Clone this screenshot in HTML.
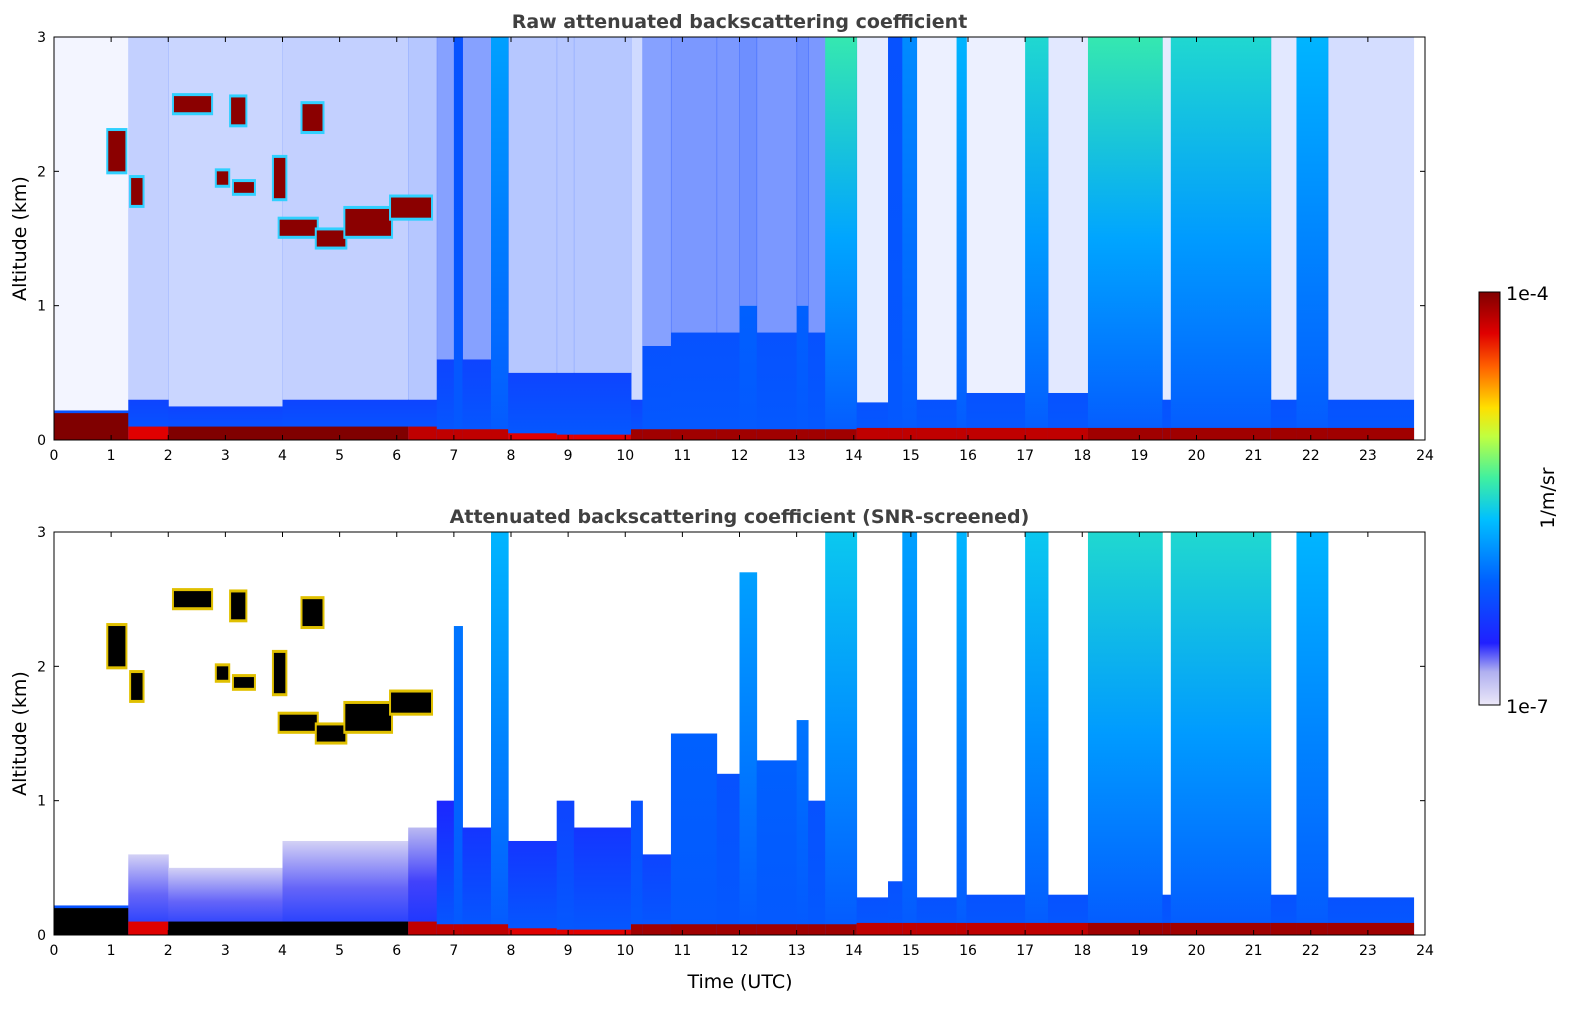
<!DOCTYPE html>
<html><head><meta charset="utf-8"><style>
body{margin:0;background:#fff;width:1595px;height:1020px;overflow:hidden;font-family:"Liberation Sans","DejaVu Sans",sans-serif}
svg text{font-family:"DejaVu Sans","Liberation Sans",sans-serif}
</style></head><body>
<svg id="fig" width="1595" height="1020" xmlns="http://www.w3.org/2000/svg"><defs id="defs"></defs></svg>
<script>
// ---- data: time segments (UTC hours) ----
const segStart=[0,1.3,2.0,4.0,6.2,6.7,7.0,7.15,7.65,7.95,8.8,9.1,10.1,10.3,10.8,11.6,12.0,12.3,13.0,13.2,13.5,14.05,14.6,14.85,15.1,15.8,15.97,17.0,17.4,18.1,19.4,19.55,21.3,21.75,22.3];
const segEnd=[1.3,2.0,4.0,6.2,6.7,7.0,7.15,7.65,7.95,8.8,9.1,10.1,10.3,10.8,11.6,12.0,12.3,13.0,13.2,13.5,14.05,14.6,14.85,15.1,15.8,15.97,17.0,17.4,18.1,19.4,19.55,21.3,21.75,22.3,23.8];
const rawTop=[0.22,0.3,0.25,0.3,0.3,0.6,3,0.6,3,0.5,0.5,0.5,0.3,0.7,0.8,0.8,1.0,0.8,1.0,0.8,3,0.28,3,3,0.3,3,0.35,3,0.35,3,0.3,3,0.3,3,0.3];
const rawTopVal=[-6.2,-6.3,-6.3,-6.3,-6.3,-6.3,-6.2,-6.3,-5.8,-6.3,-6.3,-6.3,-6.3,-6.2,-6.2,-6.2,-6.1,-6.2,-6.1,-6.2,-5.4,-6.2,-6.2,-5.9,-6.2,-5.7,-6.2,-5.5,-6.2,-5.4,-6.2,-5.5,-6.2,-5.7,-6.2];
const rawSparse=[0.05,0.25,0.22,0.25,0.3,0.5,0.6,0.5,0.6,0.3,0.3,0.3,0.2,0.5,0.55,0.55,0.6,0.55,0.6,0.55,0.6,0.1,0.3,0.3,0.08,0.2,0.08,0.2,0.12,0.3,0.1,0.3,0.12,0.3,0.18];
const scrTop=[0.22,0.6,0.5,0.7,0.8,1.0,2.3,0.8,3,0.7,1.0,0.8,1.0,0.6,1.5,1.2,2.7,1.3,1.6,1.0,3,0.28,0.4,3,0.28,3,0.3,3,0.3,3,0.3,3,0.3,3,0.28];
const scrTopVal=[-6.2,-6.9,-6.9,-6.9,-6.8,-6.5,-6.0,-6.4,-5.7,-6.4,-6.3,-6.4,-6.2,-6.3,-6.1,-6.2,-5.8,-6.1,-6.0,-6.2,-5.6,-6.2,-6.2,-5.8,-6.2,-5.7,-6.2,-5.6,-6.2,-5.5,-6.2,-5.5,-6.2,-5.7,-6.2];
const groundTop=[0.2,0.1,0.1,0.1,0.1,0.08,0.08,0.08,0.08,0.05,0.04,0.04,0.08,0.08,0.08,0.08,0.08,0.08,0.08,0.08,0.08,0.09,0.09,0.09,0.09,0.09,0.09,0.09,0.09,0.09,0.09,0.09,0.09,0.09,0.09];
const groundVal=[-3.9,-4.3,-3.9,-3.9,-4.2,-4.2,-4.2,-4.2,-4.2,-4.3,-4.3,-4.3,-4.1,-4.1,-4.1,-4.1,-4.1,-4.1,-4.1,-4.1,-4.1,-4.2,-4.2,-4.2,-4.2,-4.2,-4.2,-4.2,-4.2,-4.1,-4.1,-4.1,-4.1,-4.1,-4.1];
// ---- clouds ----
const cloudStart=[0.95,1.35,2.1,3.1,2.85,3.15,3.85,4.35,3.95,4.6,5.1,5.9];
const cloudEnd=[1.25,1.55,2.75,3.35,3.05,3.5,4.05,4.7,4.6,5.1,5.9,6.6];
const cloudAlt=[2.15,1.85,2.5,2.45,1.95,1.88,1.95,2.4,1.58,1.5,1.62,1.73];
const cloudThick=[0.3,0.2,0.12,0.2,0.1,0.08,0.3,0.2,0.12,0.12,0.2,0.15];
const xTicks=[0,1,2,3,4,5,6,7,8,9,10,11,12,13,14,15,16,17,18,19,20,21,22,23,24];
const yTicks=[0,1,2,3];

const NS="http://www.w3.org/2000/svg";
const svg=document.getElementById('fig'),defs=document.getElementById('defs');
const X0=54,X1=1425;
function xs(t){return X0+(t/24)*(X1-X0);}
function mk(tag,attrs,parent){const e=document.createElementNS(NS,tag);for(const k in attrs)e.setAttribute(k,attrs[k]);(parent||svg).appendChild(e);return e;}
const stops=[[0,[236,232,248]],[0.08,[176,176,240]],[0.15,[32,32,255]],[0.3,[0,96,255]],[0.45,[0,192,255]],[0.55,[64,240,160]],[0.65,[192,255,64]],[0.72,[255,224,0]],[0.82,[255,96,0]],[0.9,[224,0,0]],[1,[128,0,0]]];
function cmap(v){let t=Math.max(0,Math.min(1,(v+7)/3));for(let i=1;i<stops.length;i++){if(t<=stops[i][0]){const a=stops[i-1],b=stops[i];const f=(t-a[0])/(b[0]-a[0]);const c=a[1].map((x,j)=>Math.round(x+(b[1][j]-x)*f));return `rgb(${c})`;}}return 'rgb(128,0,0)';}
let gid=0;
function grad(v0,v1){const id='g'+(gid++);const g=mk('linearGradient',{id:id,x1:0,y1:1,x2:0,y2:0},defs);mk('stop',{offset:0,'stop-color':cmap(v0)},g);mk('stop',{offset:0.5,'stop-color':cmap((v0+v1)/2)},g);mk('stop',{offset:1,'stop-color':cmap(v1)},g);return id;}

function panel(Y0,Y1,title,screened,name){
  const ys=a=>Y1-(a/3)*(Y1-Y0);
  const grp=mk('g',{});
  
  
  for(let i=0;i<segStart.length;i++){
    const x=xs(segStart[i]),w=xs(segEnd[i])-x+0.5;
    if(!screened){
      const s=mk('rect',{x:x,y:Y0,width:w,height:ys(rawTop[i])-Y0,fill:cmap(-6.3),opacity:rawSparse[i]},grp);
      
      
    }
    const top=screened?scrTop[i]:rawTop[i],tv=screened?scrTopVal[i]:rawTopVal[i];
    const bv=screened&&segStart[i]>=1.3&&segStart[i]<6.7?-6.4:-6.15;
    const r=mk('rect',{x:x,y:ys(top),width:w,height:ys(0)-ys(top),fill:`url(#${grad(bv,tv)})`},grp);
    
    
    const gc=(screened&&groundVal[i]>-4)?'#000':cmap(groundVal[i]);
    const gr=mk('rect',{x:x,y:ys(groundTop[i]),width:w,height:ys(0)-ys(groundTop[i]),fill:gc},grp);
    
    
  }
  for(let i=0;i<cloudStart.length;i++){
    const x=xs(cloudStart[i]),w=xs(cloudEnd[i])-x;
    const h=cloudAlt[i]+cloudThick[i]/2,l=cloudAlt[i]-cloudThick[i]/2;
    const halo=mk('rect',{x:x-2,y:ys(h)-3,width:w+4,height:ys(l)-ys(h)+6,fill:screened?'#e0c000':'#30d0ff'},grp);
    
    
    const c=mk('rect',{x:x,y:ys(h),width:w,height:ys(l)-ys(h),fill:screened?'#000':'#8b0000'},grp);
    
    
  }
  const fr=mk('rect',{x:X0,y:Y0,width:X1-X0,height:Y1-Y0,fill:'none',stroke:'#000','stroke-width':1});
  
  
  xTicks.forEach(t=>{
    mk('line',{x1:xs(t),x2:xs(t),y1:Y1,y2:Y1-5,stroke:'#000'});
    mk('line',{x1:xs(t),x2:xs(t),y1:Y0,y2:Y0+5,stroke:'#000'});
    const tx=mk('text',{x:xs(t),y:Y1+20,'text-anchor':'middle','font-size':14});
    tx.textContent=t;
    
    
  });
  yTicks.forEach(a=>{
    mk('line',{x1:X0,x2:X0+5,y1:ys(a),y2:ys(a),stroke:'#000'});
    mk('line',{x1:X1,x2:X1-5,y1:ys(a),y2:ys(a),stroke:'#000'});
    const tx=mk('text',{x:X0-8,y:ys(a)+5,'text-anchor':'end','font-size':14});
    tx.textContent=a;
    
    
  });
  const tt=mk('text',{x:(X0+X1)/2,y:Y0-9,'text-anchor':'middle','font-size':19,'font-weight':'bold',fill:'#404040'});
  tt.textContent=title;
  
  
  const yl=mk('text',{x:0,y:0,'text-anchor':'middle','font-size':19,transform:`translate(26,${(Y0+Y1)/2}) rotate(-90)`});
  yl.textContent='Altitude (km)';
  
  
}
panel(37,440,'Raw attenuated backscattering coefficient',false,'raw-panel');
panel(532,935,'Attenuated backscattering coefficient (SNR-screened)',true,'screened-panel');
const xl=mk('text',{x:740,y:988,'text-anchor':'middle','font-size':19});
xl.textContent='Time (UTC)';


// colorbar
const cg=mk('linearGradient',{id:'cbar',x1:0,y1:1,x2:0,y2:0},defs);
stops.forEach(s=>mk('stop',{offset:s[0],'stop-color':`rgb(${s[1]})`},cg));
const cb=mk('rect',{x:1479,y:292,width:21,height:413,fill:'url(#cbar)',stroke:'#000'});


[['1e-4',300],['1e-7',713]].forEach(([t,y])=>{const e=mk('text',{x:1506,y:y,'font-size':19});e.textContent=t;

});
const cl=mk('text',{x:0,y:0,'text-anchor':'middle','font-size':19,transform:'translate(1554,498) rotate(-90)'});
cl.textContent='1/m/sr';


</script>
</body></html>
